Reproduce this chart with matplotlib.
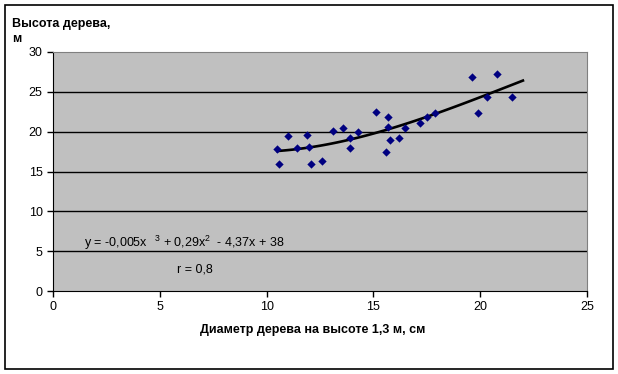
import numpy as np
import matplotlib
matplotlib.use("Agg")
import matplotlib.pyplot as plt
from matplotlib.patches import Rectangle

plt.rcParams["font.family"] = ["Liberation Sans", "DejaVu Sans"]
plt.rcParams["mathtext.default"] = "regular"

# Tree diameter at 1.3 m (cm) and tree height (m)
diameter = [10.5, 10.6, 11.0, 11.4, 11.9, 12.0, 12.1, 12.6, 13.1, 13.6,
            13.9, 13.9, 14.3, 15.1, 15.6, 15.7, 15.7, 15.8, 16.2, 16.5,
            17.2, 17.5, 17.9, 19.6, 19.9, 20.3, 20.8, 21.5]
height = [17.8, 15.9, 19.4, 17.9, 19.6, 18.1, 15.9, 16.3, 20.1, 20.5,
          19.2, 17.9, 19.9, 22.5, 17.4, 21.8, 20.6, 19.0, 19.2, 20.5,
          21.1, 21.9, 22.4, 26.8, 22.3, 24.4, 27.2, 24.3]
trend_end = 22.0  # Excel trendline forecast forward

x_ticks = [0, 5, 10, 15, 20, 25]
y_ticks = [0, 5, 10, 15, 20, 25, 30]

fig = plt.figure(figsize=(6.18, 3.74), dpi=100)
ax = fig.add_axes([53 / 618, 1 - 291 / 374, 534 / 618, 239 / 374])
ax.set_facecolor("#c0c0c0")

for y in y_ticks[1:-1]:
    ax.axhline(y, color="black", lw=1, zorder=1)

ax.scatter(diameter, height, marker="D", s=18, color="#000080", zorder=3, linewidths=0)

# 3rd-order polynomial trendline
coef = np.polyfit(diameter, height, 3)
xs = np.linspace(min(diameter), trend_end, 100)
ax.plot(xs, np.polyval(coef, xs), color="black", lw=1.9, zorder=2)

ax.set_xlim(0, 25)
ax.set_ylim(0, 30)
ax.set_xticks(x_ticks)
ax.set_yticks(y_ticks)
ax.tick_params(direction="out", length=4, width=1, labelsize=9, colors="black")
ax.spines["left"].set_color("black")
ax.spines["bottom"].set_color("black")
ax.spines["top"].set_color("#808080")
ax.spines["right"].set_color("#808080")

ax.text(1.45, 6.0, r"y = -0,005x$\ \ ^{3}$ + 0,29x$^{2}$  - 4,37x + 38", fontsize=9, va="center")
ax.text(5.8, 2.75, "r = 0,8", fontsize=9, va="center")

fig.text(12 / 618, 1 - 18 / 374, "Высота дерева,\nм", fontsize=9, fontweight="bold",
         va="top", ha="left", linespacing=1.3)
fig.text(313 / 618, 1 - 330 / 374, "Диаметр дерева на высоте 1,3 м, см", fontsize=9,
         fontweight="bold", ha="center", va="center")

fig.patches.append(Rectangle((5 / 618, 1 - 369 / 374), 608 / 618, 364 / 374,
                             transform=fig.transFigure, fill=False, ec="black", lw=1.2))

fig.savefig("out.png", dpi=100)
